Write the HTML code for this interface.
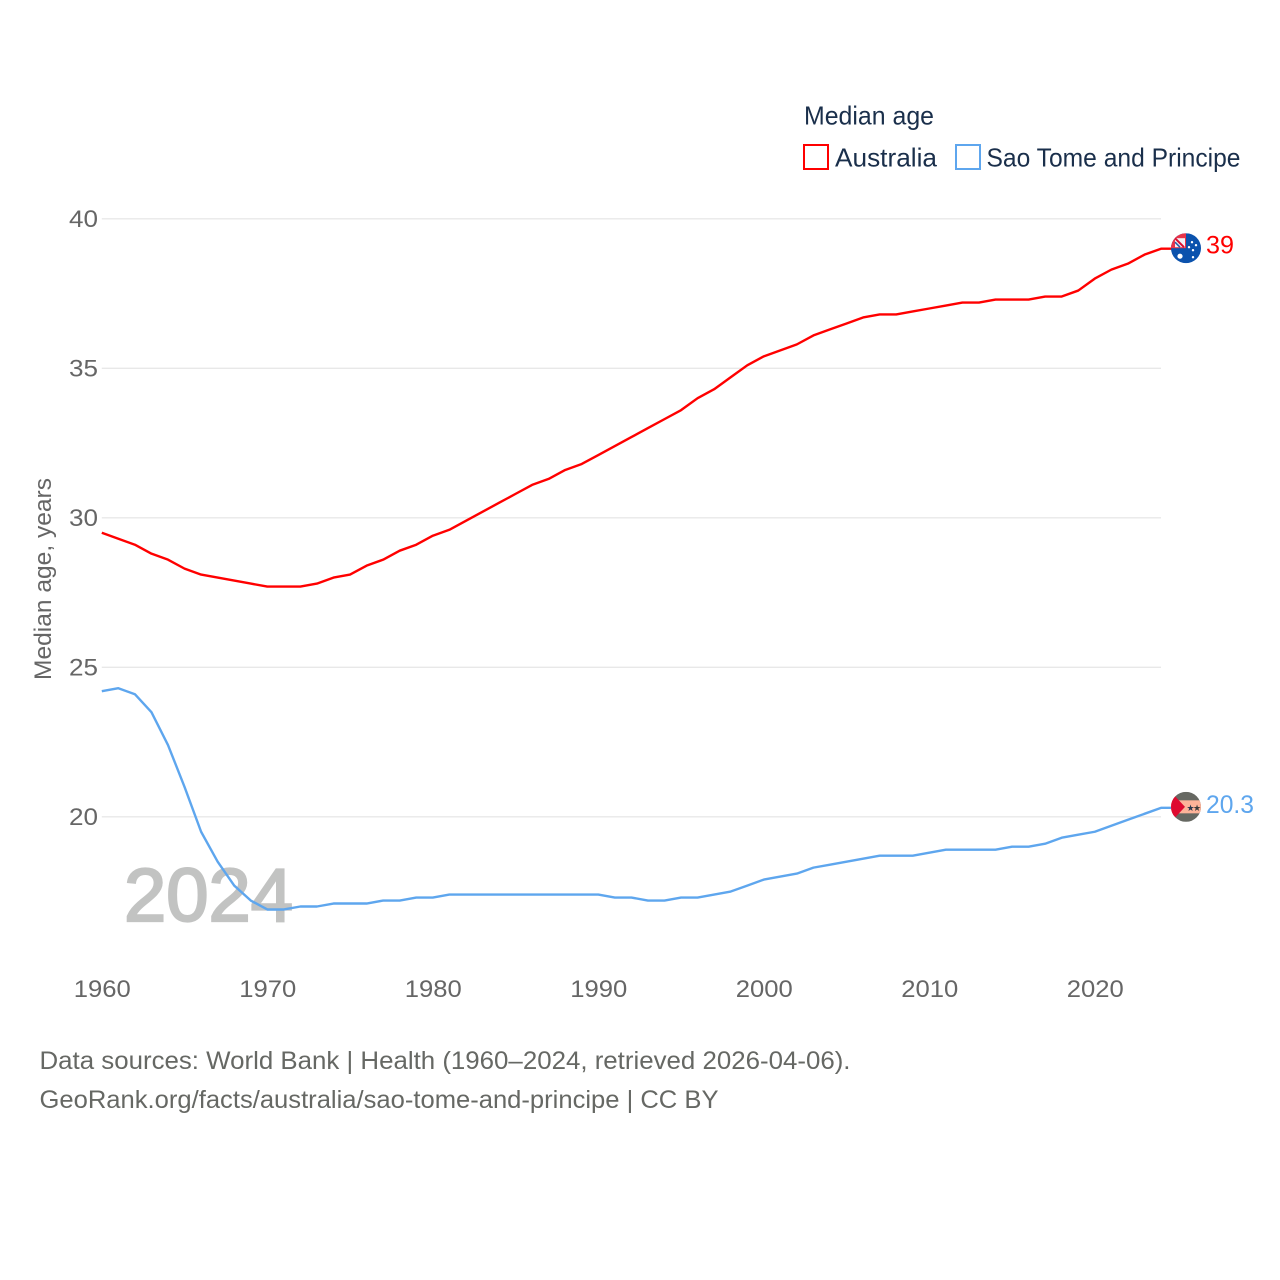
<!DOCTYPE html>
<html lang="en">
<head>
<meta charset="utf-8">
<title>Median age: Australia vs Sao Tome and Principe</title>
<style>
html,body{margin:0;padding:0;background:#fff;width:1280px;height:1280px;overflow:hidden}
svg{display:block;font-family:"Liberation Sans",sans-serif}
</style>
</head>
<body>
<svg id="chart" width="1280" height="1280" viewBox="0 0 1280 1280" xmlns="http://www.w3.org/2000/svg">
  <defs>
    <clipPath id="clip-flag"><circle cx="0" cy="0" r="15"/></clipPath>
  </defs>
  <rect x="0" y="0" width="1280" height="1280" fill="#fff"/>
  <g id="grid"></g>
  <g id="ytick-labels"></g>
  <g id="xtick-labels"></g>
  <text x="124" y="921" font-size="75" fill="#c2c3c2" stroke="#c2c3c2" stroke-width="2.2" textLength="169" lengthAdjust="spacingAndGlyphs">2024</text>
  <g id="series"></g>
  <text transform="translate(51,680) rotate(-90)" font-size="24" fill="#666" textLength="202" lengthAdjust="spacingAndGlyphs">Median age, years</text>

  <g id="flag-australia">
    <g clip-path="url(#clip-flag)">
      <rect x="-15" y="-15" width="30" height="30" fill="#0b52ad"/>
      <rect x="-15" y="-15" width="15" height="15" fill="#e8344a"/>
      <rect x="-11" y="-10" width="10" height="9" fill="#f2f2f6"/>
      <path d="M-11,-10 L-2,-1" stroke="#d81030" stroke-width="2"/>
      <path d="M-11,-6 L-6,-1" stroke="#2a5aa8" stroke-width="1.6"/>
      <circle cx="-6" cy="8" r="2.6" fill="#fff"/>
      <circle cx="6" cy="-6" r="1.2" fill="#fff"/>
      <circle cx="10" cy="-3" r="1.2" fill="#fff"/>
      <circle cx="3" cy="-1" r="1.2" fill="#fff"/>
      <circle cx="7" cy="2" r="1.2" fill="#fff"/>
      <circle cx="7" cy="9" r="1.2" fill="#fff"/>
    </g>
  </g>
  <g id="flag-stp">
    <g clip-path="url(#clip-flag)">
      <rect x="-15" y="-15" width="30" height="30" fill="#666862"/>
      <rect x="-15" y="-6.5" width="30" height="13" fill="#fdb399"/>
      <path d="M-15,-15 L-1,0 L-15,15 Z" fill="#de0a2f"/>
      <text x="0.5" y="4" font-size="9" fill="#2b3a50" font-family="'DejaVu Sans',sans-serif">★</text>
      <text x="7" y="4" font-size="9" fill="#3a3a3a" font-family="'DejaVu Sans',sans-serif">★</text>
    </g>
  </g>
  <text id="label-australia" x="1206" font-size="25" fill="#ff0000" textLength="28" lengthAdjust="spacingAndGlyphs"></text>
  <text id="label-stp" x="1206" font-size="25" fill="#5ea6ee" textLength="48" lengthAdjust="spacingAndGlyphs"></text>

  <g>
    <text x="804" y="124.5" font-size="26" fill="#1a2f4b" textLength="130" lengthAdjust="spacingAndGlyphs">Median age</text>
    <g>
      <rect x="804" y="145" width="24" height="24" fill="#fff" stroke="#ff0000" stroke-width="2"/>
      <text x="835" y="166.5" font-size="26" fill="#1a2f4b" textLength="102" lengthAdjust="spacingAndGlyphs">Australia</text>
    </g>
    <g>
      <rect x="956" y="145" width="24" height="24" fill="#fff" stroke="#5ea6ee" stroke-width="2"/>
      <text x="986.5" y="166.5" font-size="26" fill="#1a2f4b" textLength="254" lengthAdjust="spacingAndGlyphs">Sao Tome and Principe</text>
    </g>
  </g>

  <g>
    <text x="39.5" y="1069" font-size="25" fill="#666864" textLength="811" lengthAdjust="spacingAndGlyphs">Data sources: World Bank | Health (1960–2024, retrieved 2026-04-06).</text>
    <text x="39.5" y="1108" font-size="25" fill="#666864" textLength="679" lengthAdjust="spacingAndGlyphs">GeoRank.org/facts/australia/sao-tome-and-principe | CC BY</text>
  </g>
</svg>
<script>
const startYear = 1960;
const xTickYears = [1960, 1970, 1980, 1990, 2000, 2010, 2020];
const yTickValues = [20, 25, 30, 35, 40];
const australiaValues = [29.5,29.3,29.1,28.8,28.6,28.3,28.1,28.0,27.9,27.8,27.7,27.7,27.7,27.8,28.0,28.1,28.4,28.6,28.9,29.1,29.4,29.6,29.9,30.2,30.5,30.8,31.1,31.3,31.6,31.8,32.1,32.4,32.7,33.0,33.3,33.6,34.0,34.3,34.7,35.1,35.4,35.6,35.8,36.1,36.3,36.5,36.7,36.8,36.8,36.9,37.0,37.1,37.2,37.2,37.3,37.3,37.3,37.4,37.4,37.6,38.0,38.3,38.5,38.8,39.0];
const saoTomeValues = [24.2,24.3,24.1,23.5,22.4,21.0,19.5,18.5,17.7,17.2,16.9,16.9,17.0,17.0,17.1,17.1,17.1,17.2,17.2,17.3,17.3,17.4,17.4,17.4,17.4,17.4,17.4,17.4,17.4,17.4,17.4,17.3,17.3,17.2,17.2,17.3,17.3,17.4,17.5,17.7,17.9,18.0,18.1,18.3,18.4,18.5,18.6,18.7,18.7,18.7,18.8,18.9,18.9,18.9,18.9,19.0,19.0,19.1,19.3,19.4,19.5,19.7,19.9,20.1,20.3];

const SVG_NS = 'http://www.w3.org/2000/svg';
function xScale(year) { return 101.8 + (year - 1960) * 16.55; }
function yScale(value) { return 816.8 - (value - 20) * 29.9; }

const gridGroup = document.getElementById('grid');
const yLabelGroup = document.getElementById('ytick-labels');
yTickValues.forEach(function (v) {
  const line = document.createElementNS(SVG_NS, 'line');
  
  
  line.setAttribute('x1', xScale(1960));
  line.setAttribute('x2', xScale(2024));
  line.setAttribute('y1', yScale(v));
  line.setAttribute('y2', yScale(v));
  line.setAttribute('stroke', '#e8e8e8');
  line.setAttribute('stroke-width', '1.3');
  gridGroup.appendChild(line);

  const label = document.createElementNS(SVG_NS, 'text');
  
  
  label.setAttribute('x', 69);
  label.setAttribute('y', yScale(v) + 8);
  label.setAttribute('font-size', '24');
  label.setAttribute('fill', '#666');
  label.setAttribute('textLength', '29');
  label.setAttribute('lengthAdjust', 'spacingAndGlyphs');
  label.textContent = String(v);
  yLabelGroup.appendChild(label);
});

const xLabelGroup = document.getElementById('xtick-labels');
xTickYears.forEach(function (y) {
  const label = document.createElementNS(SVG_NS, 'text');
  
  
  label.setAttribute('x', xScale(y) - 28);
  label.setAttribute('y', 997);
  label.setAttribute('font-size', '24');
  label.setAttribute('fill', '#666');
  label.setAttribute('textLength', '57');
  label.setAttribute('lengthAdjust', 'spacingAndGlyphs');
  label.textContent = String(y);
  xLabelGroup.appendChild(label);
});

function buildPath(values) {
  const points = values.map(function (v, i) {
    return (i ? 'L' : 'M') + xScale(startYear + i).toFixed(2) + ',' + yScale(v).toFixed(2);
  });
  // short flat connector from the final point to the flag marker
  points.push('L1172,' + yScale(values[values.length - 1]).toFixed(2));
  return points.join(' ');
}
const seriesGroup = document.getElementById('series');

const australiaLine = document.createElementNS(SVG_NS, 'path');


australiaLine.setAttribute('d', buildPath(australiaValues));
australiaLine.setAttribute('fill', 'none');
australiaLine.setAttribute('stroke', '#ff0000');
australiaLine.setAttribute('stroke-width', '2.4');
australiaLine.setAttribute('stroke-linejoin', 'round');
seriesGroup.appendChild(australiaLine);

const saoTomeLine = document.createElementNS(SVG_NS, 'path');


saoTomeLine.setAttribute('d', buildPath(saoTomeValues));
saoTomeLine.setAttribute('fill', 'none');
saoTomeLine.setAttribute('stroke', '#5ea6ee');
saoTomeLine.setAttribute('stroke-width', '2.4');
saoTomeLine.setAttribute('stroke-linejoin', 'round');
seriesGroup.appendChild(saoTomeLine);

const lastAus = australiaValues[australiaValues.length - 1];
const lastStp = saoTomeValues[saoTomeValues.length - 1];
document.getElementById('flag-australia').setAttribute('transform', 'translate(1186,' + (yScale(lastAus) - 0.5) + ')');
document.getElementById('flag-stp').setAttribute('transform', 'translate(1186,' + (yScale(lastStp) - 1) + ')');
const labelAus = document.getElementById('label-australia');
labelAus.setAttribute('y', yScale(lastAus) + 5);
labelAus.textContent = String(lastAus);
const labelStp = document.getElementById('label-stp');
labelStp.setAttribute('y', yScale(lastStp) + 5);
labelStp.textContent = String(lastStp);
</script>
</body>
</html>
